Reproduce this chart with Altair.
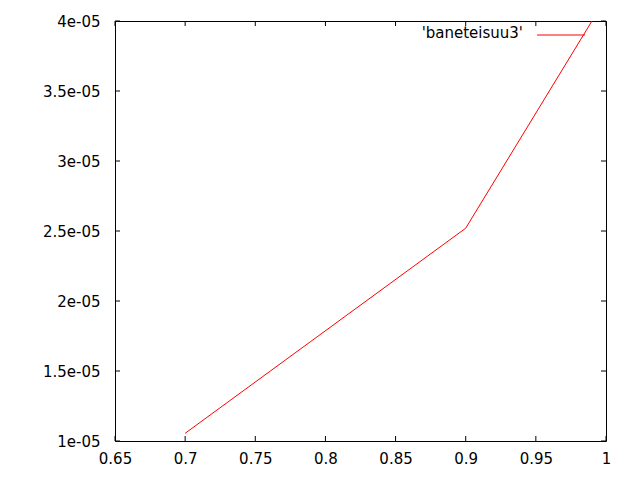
import altair as alt
import pandas as pd

x_vals = [0.7, 0.9, 0.99]
y_vals = [1.055e-05, 2.52e-05, 4.0e-05]
x_ticks = [0.65, 0.7, 0.75, 0.8, 0.85, 0.9, 0.95, 1.0]
y_ticks = [1.0e-05, 1.5e-05, 2.0e-05, 2.5e-05, 3.0e-05, 3.5e-05, 4.0e-05]
series_name = "'baneteisuu3'"

W, H = 491, 420
FONT = "DejaVu Sans"
FS = 15

df = pd.DataFrame({"x": x_vals, "y": y_vals})
xt = pd.DataFrame({"x": x_ticks})
yt = pd.DataFrame({"y": y_ticks})

xscale = alt.Scale(domain=[0.65, 1.0], nice=False, zero=False)
yscale = alt.Scale(domain=[1e-05, 4e-05], nice=False, zero=False)

line = alt.Chart(df).mark_line(color="#ff0000", strokeWidth=1, clip=True).encode(
    x=alt.X("x:Q", scale=xscale, axis=alt.Axis(
        title=None, values=x_ticks, format="~g", ticks=False, tickSize=0,
        domain=False, grid=False, labelPadding=10, labelFont=FONT,
        labelFontSize=FS, labelColor="black", labelFlush=False)),
    y=alt.Y("y:Q", scale=yscale, axis=alt.Axis(
        title=None, values=y_ticks, ticks=False, tickSize=0, domain=False,
        grid=False, labelPadding=15, labelFont=FONT, labelFontSize=FS,
        labelColor="black", labelFlush=False,
        labelExpr="replace(format(datum.value, '.1~e'), 'e-5', 'e-05')")),
)

xb = alt.Chart(xt).mark_rule(color="black", strokeWidth=1).encode(
    x=alt.X("x:Q", scale=xscale), y=alt.value(H), y2=alt.value(H - 5))
xtop = alt.Chart(xt).mark_rule(color="black", strokeWidth=1).encode(
    x=alt.X("x:Q", scale=xscale), y=alt.value(0), y2=alt.value(5))
yl = alt.Chart(yt).mark_rule(color="black", strokeWidth=1).encode(
    y=alt.Y("y:Q", scale=yscale), x=alt.value(0), x2=alt.value(5))
yr = alt.Chart(yt).mark_rule(color="black", strokeWidth=1).encode(
    y=alt.Y("y:Q", scale=yscale), x=alt.value(W), x2=alt.value(W - 5))

leg_df = pd.DataFrame({"label": [series_name]})
leg_text = alt.Chart(leg_df).mark_text(
    align="right", baseline="middle", font=FONT, fontSize=FS, color="black"
).encode(text="label:N", x=alt.value(408), y=alt.value(12))
leg_line = alt.Chart(leg_df).mark_rule(color="#ff0000", strokeWidth=1).encode(
    x=alt.value(422), x2=alt.value(470), y=alt.value(14))

chart = alt.layer(line, xb, xtop, yl, yr, leg_text, leg_line).properties(
    width=W, height=H,
    autosize=alt.AutoSizeParams(type="none"),
    padding={"left": 107, "top": 13, "right": 26, "bottom": 39},
    background="white",
).configure_view(stroke="black", strokeWidth=1)

chart.save("out.html", embed_options={"renderer": "svg", "actions": False})
